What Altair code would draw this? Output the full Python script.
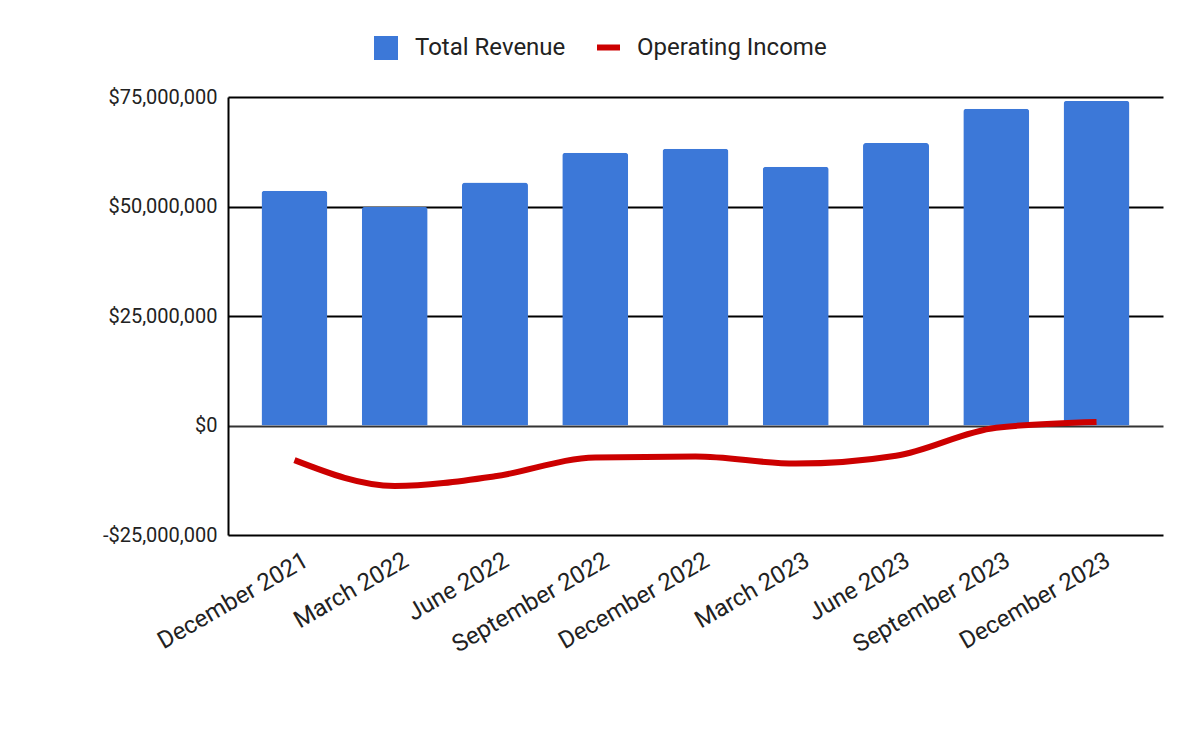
import altair as alt
import pandas as pd

quarters = ["December 2021", "March 2022", "June 2022", "September 2022", "December 2022",
            "March 2023", "June 2023", "September 2023", "December 2023"]
total_revenue = [53.6e6, 49.9e6, 55.5e6, 62.3e6, 63.2e6, 59.1e6, 64.5e6, 72.3e6, 74.1e6]
operating_income = [-7.9e6, -13.8e6, -11.6e6, -7.3e6, -7.1e6, -8.7e6, -6.9e6, -0.5e6, 0.8e6]
y_ticks = [-25e6, 0, 25e6, 50e6, 75e6]

df = pd.DataFrame({
    "Quarter": quarters,
    "Total Revenue": total_revenue,
    "Operating Income": operating_income,
    "rev_name": ["Total Revenue"] * len(quarters),
    "inc_name": ["Operating Income"] * len(quarters),
})

FONT = "Roboto"

x_enc = alt.X(
    "Quarter:N", sort=quarters, title=None,
    scale=alt.Scale(paddingInner=0.342, paddingOuter=0.334),
    axis=alt.Axis(labelAngle=-30, labelFontSize=24, labelColor="#222222", labelFont=FONT,
                  ticks=False, domain=False, grid=False, labelPadding=13, labelOffset=6,
                  labelLimit=400),
)
y_scale = alt.Scale(domain=[-25e6, 75e6], nice=False)
y_axis = alt.Axis(
    values=y_ticks, title=None, ticks=False, labelPadding=11,
    labelFontSize=20, labelColor="#222222", labelFont=FONT,
    labelExpr="datum.value < 0 ? '-$' + format(-datum.value, ',') : '$' + format(datum.value, ',')",
    domain=True, domainColor="#000000", domainWidth=2,
    grid=True, gridWidth=2,
    gridColor={"condition": {"test": "datum.value === 0", "value": "#333333"}, "value": "#000000"},
)

bars = alt.Chart(df).mark_bar(
    cornerRadiusTopLeft=3, cornerRadiusTopRight=3
).encode(
    x=x_enc,
    y=alt.Y("Total Revenue:Q", scale=y_scale, axis=y_axis),
    fill=alt.Fill("rev_name:N", scale=alt.Scale(domain=["Total Revenue"], range=["#3c78d8"]),
                  legend=alt.Legend(title=None, orient="none", legendX=146, legendY=-61,
                                    symbolType="square", symbolSize=576, symbolStrokeWidth=0,
                                    labelFontSize=24, labelFont=FONT, labelColor="#222222",
                                    labelOffset=17, padding=0, labelLimit=400)),
)

line = alt.Chart(df).mark_line(
    strokeWidth=6, interpolate="monotone", strokeCap="butt"
).encode(
    x=alt.X("Quarter:N", sort=quarters),
    y=alt.Y("Operating Income:Q", scale=y_scale),
    stroke=alt.Stroke("inc_name:N", scale=alt.Scale(domain=["Operating Income"], range=["#cc0000"]),
                      legend=alt.Legend(title=None, orient="none", legendX=366, legendY=-64,
                                        symbolType="stroke", symbolSize=529, symbolStrokeWidth=6,
                                        labelFontSize=24, labelFont=FONT, labelColor="#222222",
                                        labelOffset=14, padding=0, labelLimit=400)),
)

chart = alt.layer(bars, line).resolve_scale(
    fill="independent", stroke="independent"
).properties(
    width=935, height=438,
    padding={"left": 228, "top": 97, "right": 37, "bottom": 207},
    autosize="none",
    background="white",
).configure_view(stroke=None)

chart.save("out.html", embed_options={"renderer": "svg", "actions": False})
